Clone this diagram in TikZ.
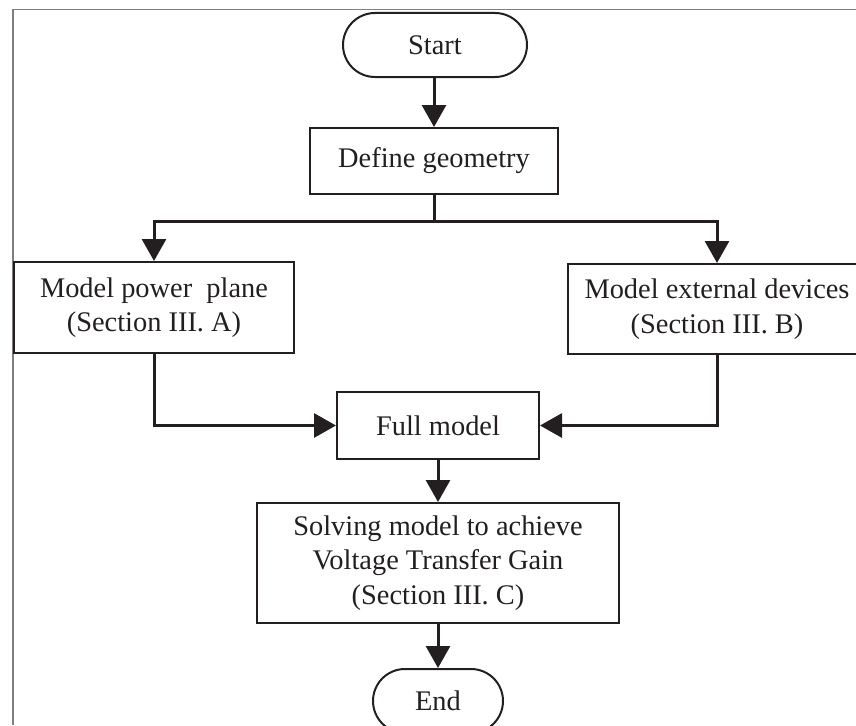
\documentclass[tikz,border=0pt]{standalone}
\usepackage{fontspec}
\setmainfont{Liberation Serif}
\usetikzlibrary{arrows.meta,shapes.misc}
\definecolor{ink}{HTML}{231F20}
\definecolor{framegray}{HTML}{7F7F7F}
\tikzset{
  box/.style={draw=ink, line width=2pt, rectangle, inner sep=0pt, align=center,
    text=ink, font=\fontsize{28.4}{34.5}\selectfont},
  term/.style={box, rounded rectangle},
  flow/.style={draw=ink, line width=3pt, -{Triangle[length=22pt,width=24pt]}},
  frameline/.style={draw=framegray, line width=1.8pt}
}
\begin{document}
\begin{tikzpicture}[x=1pt,y=-1pt]
\useasboundingbox (0,0) rectangle (856,725);
\clip (0,0) rectangle (856,725);
\draw[frameline] (13,725) -- (13,9.5) -- (856,9.5);
\node[term, minimum width=184pt, minimum height=64pt] (start) at (435,45) {Start};
\node[box, minimum width=248pt, minimum height=66pt] (define) at (434,161) {Define geometry};
\node[box, minimum width=280pt, minimum height=91pt] (plane) at (154,307.5) {Model power\ \ plane\\(Section III. A)};
\node[box, minimum width=298pt, minimum height=90pt] (ext) at (717,309) {Model external devices\\(Section III. B)};
\node[box, minimum width=202pt, minimum height=67pt] (full) at (438,425.5) {Full model};
\node[box, minimum width=362pt, minimum height=120pt] (solve) at (438,563) {Solving model to achieve\\Voltage Transfer Gain\\(Section III. C)};
\node[term, minimum width=130pt, minimum height=64pt] (end) at (438,701) {End};
\coordinate (split) at (define.south |- 0,221);
\draw[flow] (start.south -| define.north) -- (define.north);
\draw[draw=ink, line width=3pt] (define.south) -- (split);
\draw[flow] (split) -| (plane.north);
\draw[flow] (split) -| (ext.north);
\draw[flow] (plane.south) |- (full.west);
\draw[flow] (ext.south) |- (full.east);
\draw[flow] (full.south) -- (solve.north);
\draw[flow] (solve.south) -- (end.north);
\end{tikzpicture}
\end{document}
